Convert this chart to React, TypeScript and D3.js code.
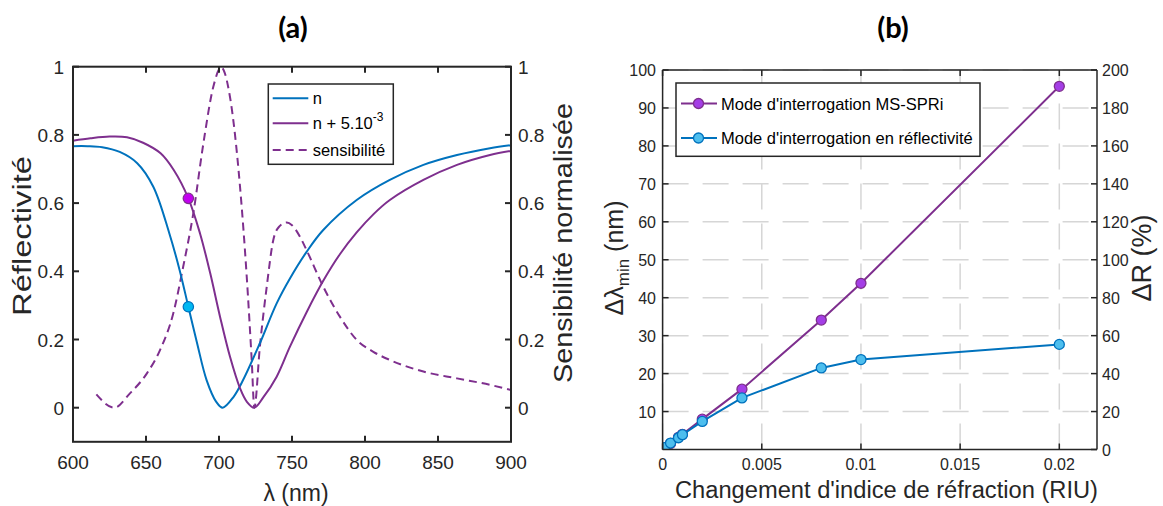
import React from 'react';
import * as d3 from 'd3';

// ---------- Panel (a) data ----------
const lambdaN = [600, 610, 620, 632, 644, 655, 666, 673, 679, 685, 691.5, 698, 702.5, 710, 716.5, 728, 739.5, 748.6, 760, 771.4, 794.3, 817, 840, 863, 885.6, 900];
const reflN = [0.767, 0.767, 0.764, 0.75, 0.717, 0.648, 0.511, 0.404, 0.296, 0.189, 0.081, 0.018, 0, 0.032, 0.081, 0.189, 0.306, 0.379, 0.457, 0.521, 0.609, 0.668, 0.712, 0.741, 0.761, 0.77];

const lambdaP = [600, 612, 625, 637, 648, 660, 669, 679, 687, 694, 700.7, 707.5, 714.4, 719, 724.2, 730.3, 739.5, 748.6, 760, 771.4, 782.8, 794.3, 805.7, 817, 840, 863, 885.6, 900];
const reflP = [0.783, 0.79, 0.795, 0.793, 0.777, 0.746, 0.697, 0.614, 0.511, 0.394, 0.267, 0.15, 0.057, 0.018, 0, 0.03, 0.091, 0.179, 0.28, 0.372, 0.45, 0.514, 0.567, 0.609, 0.668, 0.712, 0.741, 0.753];

const lambdaS = [616, 628.3, 639, 650.5, 659.6, 668.7, 675.5, 682.4, 689.3, 696.1, 701.5, 707.5, 714.4, 719, 722.4, 724.2, 728, 732.7, 737.2, 741, 746.4, 750, 755.5, 760, 771.4, 782.8, 794.3, 805.7, 817, 840, 863, 885.6, 900];
const sens = [0.039, 0, 0.042, 0.1, 0.169, 0.277, 0.414, 0.57, 0.775, 0.941, 0.998, 0.912, 0.648, 0.384, 0.14, 0, 0.179, 0.355, 0.492, 0.53, 0.543, 0.535, 0.501, 0.462, 0.355, 0.267, 0.199, 0.164, 0.14, 0.106, 0.086, 0.067, 0.052];

const markerLambda = 679;
const markerN = 0.296;
const markerP = 0.614;

const xTicksA = [600, 650, 700, 750, 800, 850, 900];
const yTicksA = [0, 0.2, 0.4, 0.6, 0.8, 1];
const legendA = ['n', 'n + 5.10', 'sensibilité'];

// ---------- Panel (b) data ----------
const riu = [0, 0.0001, 0.0004, 0.0008, 0.001, 0.002, 0.004, 0.008, 0.01, 0.02];
const dLambdaMin = [0, 0.4, 1.6, 3.2, 4.0, 8.0, 15.9, 34.1, 43.8, 95.7];
const dR = [0, 1.0, 3.4, 6.2, 7.8, 14.8, 27.2, 43.0, 47.4, 55.4];

const xTicksB = [0, 0.005, 0.01, 0.015, 0.02];
const xTickLabelsB = ['0', '0.005', '0.01', '0.015', '0.02'];
const yTicksBLeft = [10, 20, 30, 40, 50, 60, 70, 80, 90, 100];
const yTicksBRight = [0, 20, 40, 60, 80, 100, 120, 140, 160, 180, 200];
const legendB = ["Mode d'interrogation MS-SPRi", "Mode d'interrogation en réflectivité"];

const BLUE = '#0072bd';
const PURPLE = '#7e2f8e';
const AX = '#262626';
const FONT = '"Liberation Sans", Arial, Helvetica, sans-serif';

function PanelA() {
  const x = d3.scaleLinear().domain([600, 900]).range([73, 511]);
  const y = d3.scaleLinear().domain([-0.1, 1]).range([441.8, 66.7]);
  const ys = d3.scaleLinear().domain([-0.1, 1]).range([441.8, 66.7]);
  const line = d3.line<[number, number]>().x(d => x(d[0])).y(d => y(d[1])).curve(d3.curveCatmullRom.alpha(0.5));
  const lineS = d3.line<[number, number]>().x(d => x(d[0])).y(d => ys(d[1])).curve(d3.curveMonotoneX);
  const [x0, x1] = x.range();
  const yb = y.range()[0], yt = y.range()[1];
  const pN = lambdaN.map((l, i) => [l, reflN[i]] as [number, number]);
  const pP = lambdaP.map((l, i) => [l, reflP[i]] as [number, number]);
  const pS = lambdaS.map((l, i) => [l, sens[i]] as [number, number]);
  const tl = 6;
  return (
    <g fontFamily={FONT}>
      <text x={293} y={38} textAnchor="middle" fontFamily="Lato, 'Open Sans', sans-serif" fontWeight="bold" fontSize={29} fill="#000">(a)</text>
      <defs>
        <clipPath id="clipA"><rect x={x0} y={yt} width={x1 - x0} height={yb - yt} /></clipPath>
      </defs>
      <g clipPath="url(#clipA)">
        <path d={lineS(pS) || ''} fill="none" stroke={PURPLE} strokeWidth={2} strokeDasharray="8,5" />
        <path d={line(pN) || ''} fill="none" stroke={BLUE} strokeWidth={2} />
        <path d={line(pP) || ''} fill="none" stroke={PURPLE} strokeWidth={2} />
      </g>
      <circle cx={x(markerLambda)} cy={y(markerP)} r={5.2} fill="#c300f0" stroke={PURPLE} strokeWidth={1.2} />
      <circle cx={x(markerLambda)} cy={y(markerN)} r={5.2} fill="#00b8f2" stroke={BLUE} strokeWidth={1.2} />
      {/* axes box */}
      <rect x={x0} y={yt} width={x1 - x0} height={yb - yt} fill="none" stroke={AX} strokeWidth={2} />
      {xTicksA.map(t => (
        <g key={'xa' + t}>
          <line x1={x(t)} x2={x(t)} y1={yb} y2={yb - tl} stroke={AX} strokeWidth={2} />
          <line x1={x(t)} x2={x(t)} y1={yt} y2={yt + tl} stroke={AX} strokeWidth={2} />
          <text x={x(t)} y={469} textAnchor="middle" fontSize={19} fill={AX}>{t}</text>
        </g>
      ))}
      {yTicksA.map(t => (
        <g key={'ya' + t}>
          <line x1={x0} x2={x0 + tl} y1={y(t)} y2={y(t)} stroke={AX} strokeWidth={2} />
          <line x1={x1} x2={x1 - tl} y1={ys(t)} y2={ys(t)} stroke={AX} strokeWidth={2} />
          <text x={64} y={y(t) + 7} textAnchor="end" fontSize={19} fill={AX}>{t}</text>
          <text x={518} y={ys(t) + 7} textAnchor="start" fontSize={19} fill={AX}>{t}</text>
        </g>
      ))}
      <text x={296} y={501} textAnchor="middle" fontSize={23} fill={AX}>λ (nm)</text>
      <text transform={`translate(31,236) rotate(-90)`} textAnchor="middle" fontSize={25} textLength={160} lengthAdjust="spacingAndGlyphs" fill={AX}>Réflectivité</text>
      <text transform={`translate(572,243) rotate(-90)`} textAnchor="middle" fontSize={25} textLength={280} lengthAdjust="spacingAndGlyphs" fill={AX}>Sensibilité normalisée</text>
      {/* legend */}
      <rect x={268.3} y={84} width={125} height={80.3} fill="#fff" stroke={AX} strokeWidth={1.5} />
      {legendA.map((lab, i) => {
        const ly = [98.3, 123.3, 150][i];
        const col = i === 0 ? BLUE : PURPLE;
        return (
          <g key={lab}>
            <line x1={272.7} x2={308.3} y1={ly} y2={ly} stroke={col} strokeWidth={2} strokeDasharray={i === 2 ? '8,5' : undefined} />
            <text x={312.7} y={ly + 6} fontSize={16.5} fill="#000">
              {lab}
              {i === 1 ? <tspan dy={-8} fontSize={12}>-3</tspan> : null}
            </text>
          </g>
        );
      })}
    </g>
  );
}

function PanelB() {
  const x = d3.scaleLinear().domain([0, 0.0219]).range([662.6, 1097]);
  const yL = d3.scaleLinear().domain([0, 100]).range([449.5, 70]);
  const yR = d3.scaleLinear().domain([0, 200]).range([449.5, 70]);
  const [x0, x1] = x.range();
  const yb = yL.range()[0], yt = yL.range()[1];
  const lineL = d3.line<number>().x((_, i) => x(riu[i])).y(d => yL(d));
  const lineR = d3.line<number>().x((_, i) => x(riu[i])).y(d => yR(d));
  const tl = 6;
  const gridCol = '#d6d6d6';
  return (
    <g fontFamily={FONT}>
      <text x={893} y={38} textAnchor="middle" fontFamily="Lato, 'Open Sans', sans-serif" fontWeight="bold" fontSize={29} fill="#000">(b)</text>
      <defs>
        <clipPath id="clipB"><rect x={x0} y={yt} width={x1 - x0} height={yb - yt} /></clipPath>
      </defs>
      {/* grid */}
      {xTicksB.map(t => (
        <line key={'gx' + t} x1={x(t)} x2={x(t)} y1={yb} y2={yt} stroke={gridCol} strokeWidth={1.5} strokeDasharray="26,14" />
      ))}
      {yTicksBLeft.map(t => (
        <line key={'gy' + t} x1={x0} x2={x1} y1={yL(t)} y2={yL(t)} stroke={gridCol} strokeWidth={1.5} strokeDasharray="26,14" />
      ))}
      <g clipPath="url(#clipB)">
        <path d={lineL(dLambdaMin) || ''} fill="none" stroke={PURPLE} strokeWidth={2} />
        {dLambdaMin.map((v, i) => (
          <circle key={'pm' + i} cx={x(riu[i])} cy={yL(v)} r={5} fill="#a43ee6" stroke={PURPLE} strokeWidth={1.3} />
        ))}
        <path d={lineR(dR) || ''} fill="none" stroke={BLUE} strokeWidth={2} />
        {dR.map((v, i) => (
          <circle key={'bm' + i} cx={x(riu[i])} cy={yR(v)} r={5} fill="#4dbeee" stroke={BLUE} strokeWidth={1.3} />
        ))}
      </g>
      {/* axes */}
      <line x1={x0} x2={x1} y1={yb} y2={yb} stroke={AX} strokeWidth={1.5} />
      <line x1={x0} x2={x1} y1={yt} y2={yt} stroke={AX} strokeWidth={1.5} />
      <line x1={x0} x2={x0} y1={yb} y2={yt} stroke={AX} strokeWidth={1.5} />
      <line x1={x1} x2={x1} y1={yb} y2={yt} stroke={AX} strokeWidth={1.5} />
      {xTicksB.map((t, i) => (
        <g key={'xb' + t}>
          <line x1={x(t)} x2={x(t)} y1={yb} y2={yb - tl} stroke={AX} strokeWidth={1.5} />
          <line x1={x(t)} x2={x(t)} y1={yt} y2={yt + tl} stroke={AX} strokeWidth={1.5} />
          <text x={x(t)} y={470} textAnchor="middle" fontSize={16} fill={AX}>{xTickLabelsB[i]}</text>
        </g>
      ))}
      {yTicksBLeft.map(t => (
        <g key={'yl' + t}>
          <line x1={x0} x2={x0 + tl} y1={yL(t)} y2={yL(t)} stroke={AX} strokeWidth={1.5} />
          <text x={656} y={yL(t) + 6} textAnchor="end" fontSize={16} fill={AX}>{t}</text>
        </g>
      ))}
      {yTicksBRight.map(t => (
        <g key={'yr' + t}>
          <line x1={x1} x2={x1 - tl} y1={yR(t)} y2={yR(t)} stroke={AX} strokeWidth={1.5} />
          <text x={1102} y={yR(t) + 6} textAnchor="start" fontSize={16} fill={AX}>{t}</text>
        </g>
      ))}
      <text x={886.5} y={498} textAnchor="middle" fontSize={23} textLength={423} lengthAdjust="spacingAndGlyphs" fill={AX}>Changement d'indice de réfraction (RIU)</text>
      <text transform={`translate(623,258) rotate(-90)`} textAnchor="middle" fontSize={25} fill={AX}>
        Δλ<tspan dy={6} fontSize={17}>min</tspan><tspan dy={-6}> (nm)</tspan>
      </text>
      <text transform={`translate(1151,258) rotate(-90)`} textAnchor="middle" fontSize={27} fill={AX}>ΔR (%)</text>
      {/* legend */}
      <rect x={676} y={83} width={304} height={73.3} fill="#fff" stroke={AX} strokeWidth={1.5} />
      {legendB.map((lab, i) => {
        const ly = [103.5, 138][i];
        const col = i === 0 ? PURPLE : BLUE;
        const fill = i === 0 ? '#a43ee6' : '#4dbeee';
        return (
          <g key={lab}>
            <line x1={681} x2={717} y1={ly} y2={ly} stroke={col} strokeWidth={2} />
            <circle cx={698.5} cy={ly} r={5} fill={fill} stroke={col} strokeWidth={1.3} />
            <text x={721} y={ly + 6} fontSize={16.5} fill="#000">{lab}</text>
          </g>
        );
      })}
    </g>
  );
}

export default function App() {
  return (
    <svg width={1163} height={506} viewBox="0 0 1163 506" style={{ position: 'fixed', left: 0, top: 0, background: '#fff' }}>
      <rect x={0} y={0} width={1163} height={506} fill="#fff" />
      <PanelA />
      <PanelB />
    </svg>
  );
}
